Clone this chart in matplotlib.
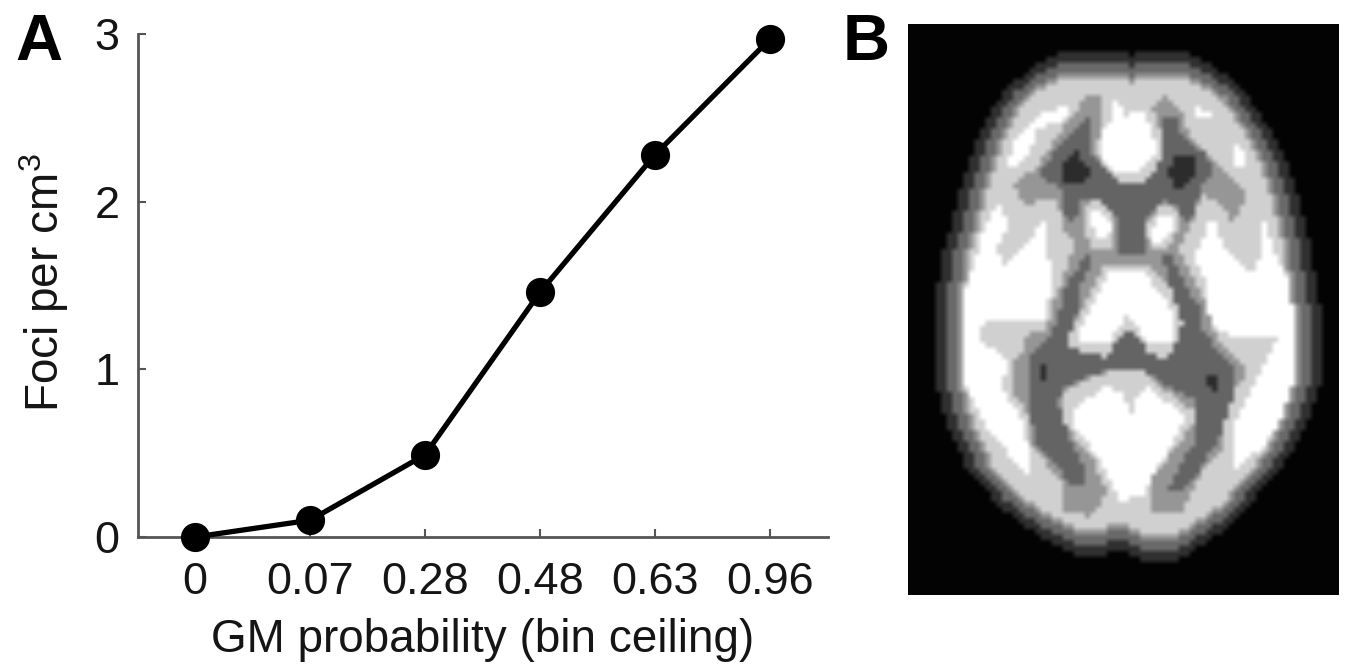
import numpy as np
import matplotlib
matplotlib.use("Agg")
import matplotlib.pyplot as plt
from matplotlib.path import Path

plt.rcParams['font.family'] = ['Liberation Sans', 'DejaVu Sans']
plt.rcParams['mathtext.fontset'] = 'custom'
plt.rcParams['mathtext.rm'] = 'Liberation Sans'
plt.rcParams['mathtext.default'] = 'regular'

# ---- panel A data
bin_labels = ['0', '0.07', '0.28', '0.48', '0.63', '0.96']
foci_per_cm3 = [0.0, 0.10, 0.49, 1.46, 2.28, 2.97]
y_ticks = [0, 1, 2, 3]

# ---- panel B: outlines of the grey levels of the slice, in picture pixels
silhouette = [(1070,50),(1127,50),(1132,58),(1138,50),(1182,50),(1205,62),(1238,83),(1258,110),(1282,150),
              (1297,193),(1308,237),(1320,307),(1323,345),(1323,378),(1310,418),(1288,458),(1255,498),(1222,532),
              (1175,562),(1143,562),(1125,552),(1077,557),(1038,535),(998,505),(965,465),(945,418),(935,378),
              (935,325),(935,307),(943,253),(955,210),(968,163),(985,120),(1005,90),(1038,63)]
left_lobe = [(1000,203),(1007,225),(997,248),(1003,268),(1022,250),(1045,218),(1048,250),(1050,270),(1048,322),
             (983,323),(978,338),(1008,360),(1002,390),(1020,415),(1030,450),(1032,478),(1012,458),(985,425),
             (965,385),(960,340),(960,300),(972,270),(985,225)]
right_lobe = [(1212,217),(1195,258),(1207,285),(1207,325),(1232,335),(1260,337),(1278,338),(1265,365),(1250,395),
              (1235,425),(1232,470),(1265,445),(1295,395),(1300,340),(1292,290),(1272,245),(1262,213),(1258,273),
              (1245,270),(1225,247)]
white_spots = [[(1065,105),(1067,117),(1038,130),(1028,153),(1018,165),(1007,165),(1015,143),(1035,117)],
               [(1198,108),(1210,113),(1210,118),(1198,118)],
               [(1233,142),(1242,147),(1247,165),(1235,165)],
               [(1115,98),(1127,117),(1142,108),(1153,130),(1155,157),(1142,170),(1115,170),(1102,157),(1103,130),(1113,117)]]
halo_top = [(1077,110),(1085,98),(1103,98),(1104,127),(1095,147),(1102,167),(1118,185),(1138,185),(1158,167),
            (1163,140),(1153,107),(1163,95),(1182,110),(1188,133),(1215,160),(1245,190),(1242,207),(1233,227),
            (1225,207),(1202,195),(1192,223),(1175,253),(1168,255),(1092,255),(1075,247),(1062,227),(1058,197),
            (1045,197),(1027,207),(1012,183),(1038,167),(1045,153)]
halo_mid = [(1075,247),(1180,250),(1207,305),(1052,305)]
body_top = [(1087,115),(1093,115),(1093,153),(1102,167),(1118,183),(1142,183),(1158,167),(1163,143),(1163,115),
            (1175,115),(1182,135),(1205,153),(1215,173),(1202,187),(1192,220),(1182,220),(1175,203),(1162,202),
            (1145,217),(1143,252),(1118,252),(1117,217),(1102,200),(1082,198),(1075,220),(1067,220),(1060,190),
            (1043,177),(1043,167),(1058,147),(1082,123)]
left_eye_halo = [(1082,207),(1095,197),(1108,207),(1115,227),(1110,250),(1092,250),(1085,227)]
left_eye_white = [(1090,213),(1102,212),(1115,230),(1102,240),(1092,227)]
right_eye_halo = [(1145,227),(1162,202),(1177,210),(1178,227),(1168,250),(1152,252)]
right_eye_white = [(1150,240),(1158,217),(1172,217),(1172,230),(1158,247)]
spots_top = [[(1077,152),(1090,173),(1078,185),(1065,183),(1060,167)],
             [(1175,157),(1195,157),(1198,173),(1180,190),(1165,175)]]
limb_top_left = [(1087,255),(1093,263),(1078,290),(1078,310),(1060,310),(1062,290)]
limb_top_right = [(1162,258),(1172,255),(1198,310),(1178,310)]
halo_low = [(1052,305),(1048,328),(1018,338),(1028,343),(1015,362),(1012,392),(1028,415),(1028,442),(1062,482),
            (1065,510),(1092,518),(1125,510),(1138,505),(1153,515),(1182,513),(1185,505),(1198,478),(1222,448),
            (1222,415),(1248,368),(1215,335),(1207,305),(1188,305),(1182,325),(1170,360),(1148,350),(1128,315),
            (1108,357),(1070,357),(1068,338),(1085,305)]
body_low = [(1062,305),(1082,305),(1072,328),(1068,348),(1105,357),(1128,327),(1152,355),(1168,362),(1182,325),
            (1178,305),(1198,305),(1205,335),(1235,368),(1230,412),(1215,445),(1195,478),(1178,493),(1168,490),
            (1182,462),(1198,435),(1198,412),(1192,398),(1165,385),(1145,372),(1128,370),(1102,372),(1062,388),
            (1058,402),(1068,435),(1082,462),(1083,487),(1070,487),(1055,462),(1037,445),(1027,405),(1027,355),(1052,335)]
center_low_light = [(1062,392),(1102,373),(1122,370),(1145,370),(1162,388),(1195,412),(1195,425),(1182,438),(1152,478),
                    (1153,518),(1118,512),(1090,520),(1108,492),(1092,458),(1065,425),(1060,405)]
center_low_white = [(1075,408),(1105,388),(1122,392),(1132,415),(1138,395),(1148,385),(1185,418),(1172,442),(1142,498),
                    (1118,500),(1102,462),(1075,428)]
center_up_light = [(1105,265),(1148,265),(1172,290),(1185,310),(1185,325),(1182,355),(1165,362),(1148,355),(1128,327),
                   (1108,357),(1070,357),(1072,335),(1085,305),(1092,290)]
center_up_white = [(1110,270),(1143,270),(1168,305),(1175,325),(1170,345),(1150,345),(1128,315),(1108,345),(1080,345),
                   (1082,325),(1095,300)]
specks = [[(1041,363),(1045,363),(1045,380),(1041,380)],
          [(1207,373),(1215,373),(1220,393),(1211,393)]]

# grey levels
L_BG, L_RIM, L_MID, L_SOFT, L_LIGHT, L_WHITE = 3, 48, 105, 150, 208, 255
L_HALO, L_BODY, L_SPOT = 150, 100, 45

# ---- figure
fig = plt.figure(figsize=(13.61, 6.71), dpi=100)
W, H = 1361, 671
ax = fig.add_axes([137.5/W, 1-537/H, 690/W, 503/H])
x = np.arange(len(bin_labels))
ax.plot(x, foci_per_cm3, '-o', color='black', lw=3.8, ms=20, clip_on=False, zorder=5)
ax.set_xlim(-0.5, 5.5)
ax.set_ylim(0, 3)
ax.set_xticks(x, bin_labels)
ax.set_yticks(y_ticks)
for s in ('top', 'right'):
    ax.spines[s].set_visible(False)
for s in ('left', 'bottom'):
    ax.spines[s].set_color('#555555')
    ax.spines[s].set_linewidth(2.0)
ax.tick_params(direction='in', length=6, width=1.5, color='#555555', labelsize=32.5, labelcolor='#151515')
ax.tick_params(axis='x', pad=18)
ax.tick_params(axis='y', pad=13)
ax.set_xlabel('GM probability (bin ceiling)', fontsize=33, color='#151515', labelpad=11)
ax.set_ylabel('Foci per cm$^3$', fontsize=33, color='#151515', labelpad=17, y=0.505)

fig.text(15/W, 1-60/H, 'A', fontsize=47, fontweight='bold', color='black')
fig.text(843/W, 1-60/H, 'B', fontsize=47, fontweight='bold', color='black')

# panel B raster
X0, X1, Y0, Y1 = 908, 1339, 24, 595
NX, NY = 78, 104
xs = np.linspace(X0, X1, NX, endpoint=False) + (X1-X0)/NX/2
ys = np.linspace(Y0, Y1, NY, endpoint=False) + (Y1-Y0)/NY/2
gx, gy = np.meshgrid(xs, ys)
pts = np.column_stack([gx.ravel(), gy.ravel()])
def mask(poly):
    return Path(poly + [poly[0]]).contains_points(pts).reshape(gx.shape)
def erode(m):
    o = m.copy()
    o[1:, :] &= m[:-1, :]; o[:-1, :] &= m[1:, :]
    o[:, 1:] &= m[:, :-1]; o[:, :-1] &= m[:, 1:]
    return o

img = np.full(gx.shape, L_BG, float)
m = mask(silhouette)
img[m] = L_RIM
m = erode(erode(m)); img[m] = L_MID
m = erode(erode(m)); img[m] = L_SOFT
m = erode(m); img[m] = L_LIGHT
inner = m
for poly in [left_lobe, right_lobe] + white_spots:
    img[mask(poly) & inner] = L_WHITE
for poly, lv in [(halo_top, L_HALO), (halo_mid, L_HALO), (halo_low, L_HALO), (center_up_light, L_LIGHT),
                 (center_up_white, L_WHITE), (center_low_light, L_LIGHT), (center_low_white, L_WHITE),
                 (body_top, L_BODY), (body_low, L_BODY), (limb_top_left, L_BODY), (limb_top_right, L_BODY),
                 (left_eye_halo, L_LIGHT), (left_eye_white, L_WHITE), (right_eye_halo, L_LIGHT),
                 (right_eye_white, L_WHITE), (white_spots[3], L_WHITE)]:
    img[mask(poly)] = lv
for poly in spots_top + specks:
    img[mask(poly)] = L_SPOT

axb = fig.add_axes([X0/W, 1-Y1/H, (X1-X0)/W, (Y1-Y0)/H])
axb.imshow(img, cmap='gray', vmin=0, vmax=255, interpolation='bilinear', aspect='auto', extent=(X0, X1, Y1, Y0))
axb.set_xticks([]); axb.set_yticks([])
for s in axb.spines.values():
    s.set_visible(False)

fig.savefig('out.png', dpi=100)
